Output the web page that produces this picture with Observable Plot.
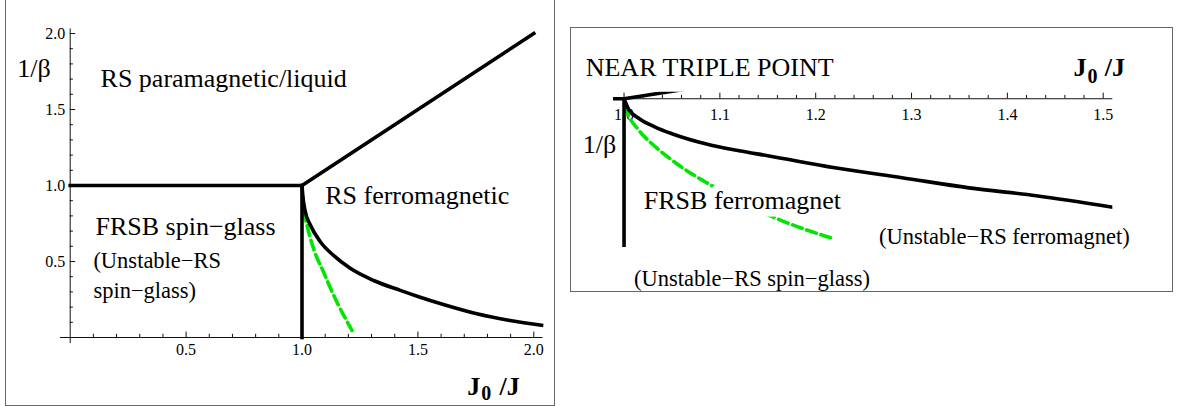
<!DOCTYPE html>
<html>
<head>
<meta charset="utf-8">
<script src="https://cdn.jsdelivr.net/npm/d3@7"></script>
<script src="https://cdn.jsdelivr.net/npm/@observablehq/plot@0.6"></script>
<style>
  html, body { margin: 0; padding: 0; background: #fff; width: 1181px; height: 406px; overflow: hidden; }
  #wrap { position: relative; width: 1181px; height: 406px; }
  .box { position: absolute; border: 1px solid #666; box-sizing: border-box; pointer-events: none; }
  #p1, #p2 { position: absolute; }
</style>
</head>
<body>
<div id="wrap">
  <div id="p1" style="left:0px;top:0px"></div>
  <div id="p2" style="left:560px;top:0px"></div>
  <div class="box" style="left:5px;top:-2px;width:550px;height:408px"></div>
  <div class="box" style="left:570px;top:27px;width:603px;height:265px"></div>
</div>
<script>
// ---------- DATA: full phase diagram (left panel) ----------
const xMajor1 = [0.5, 1.0, 1.5, 2.0];
const xMinor1 = [0.1, 0.2, 0.3, 0.4, 0.6, 0.7, 0.8, 0.9, 1.1, 1.2, 1.3, 1.4, 1.6, 1.7, 1.8, 1.9];
const yMajor1 = [0.5, 1.0, 1.5, 2.0];
const yMinor1 = [0.1, 0.2, 0.3, 0.4, 0.6, 0.7, 0.8, 0.9, 1.1, 1.2, 1.3, 1.4, 1.6, 1.7, 1.8, 1.9];
const xAxis1 = [-0.042, 2.04];
const yAxis1 = [-0.04, 2.03];

// spin-glass / paramagnet boundary
const sgParaX = [0, 1];
const sgParaY = [1, 1];
// paramagnet / ferromagnet boundary
const paraFerroX = [1, 2];
const paraFerroY = [1, 2];
// spin-glass / ferromagnet boundary (vertical)
const sgFerroX = [1, 1];
const sgFerroY = [0, 1];
// FRSB ferromagnet / RS ferromagnet boundary
const frsbX = [1.000, 1.003, 1.014, 1.036, 1.079, 1.136, 1.208, 1.309, 1.424, 1.500, 1.610, 1.754, 1.897, 2.041];
const frsbY = [1.000, 0.940, 0.830, 0.740, 0.630, 0.540, 0.455, 0.375, 0.310, 0.270, 0.217, 0.156, 0.112, 0.079];
// green dashed line
const greenX = [1.003, 1.007, 1.022, 1.050, 1.093, 1.151, 1.216];
const greenY = [0.930, 0.857, 0.737, 0.584, 0.430, 0.232, 0.046];

// ---------- DATA: near triple point (right panel) ----------
const xMajor2 = [1.0, 1.1, 1.2, 1.3, 1.4, 1.5];
const xMinor2 = [1.02, 1.04, 1.06, 1.08, 1.12, 1.14, 1.16, 1.18, 1.22, 1.24, 1.26, 1.28,
                 1.32, 1.34, 1.36, 1.38, 1.42, 1.44, 1.46, 1.48];
const xAxis2 = [0.9913, 1.51];
const nearFrsbX = [1.000, 1.005, 1.016, 1.033, 1.050, 1.085, 1.120, 1.150, 1.220, 1.290, 1.360, 1.430, 1.510];
const nearFrsbY = [1.000, 0.926, 0.866, 0.808, 0.765, 0.697, 0.650, 0.617, 0.536, 0.469, 0.401, 0.348, 0.271];
const nearGreenX = [1.001, 1.0025, 1.0157, 1.0331, 1.0505, 1.0679, 1.0853, 1.160, 1.219];
const nearGreenY = [0.950, 0.921, 0.787, 0.675, 0.585, 0.506, 0.439, 0.193, 0.058];

// ---------- labels ----------
const labels1 = [
  {text: "RS paramagnetic/liquid", x: 0.131, y: 1.651, size: 26},
  {text: "RS ferromagnetic", x: 1.10, y: 0.878, size: 26},
  {text: "FRSB spin\u2212glass", x: 0.109, y: 0.676, size: 26},
  {text: "(Unstable\u2212RS", x: 0.100, y: 0.456, size: 22.5},
  {text: "spin\u2212glass)", x: 0.100, y: 0.262, size: 22.5},
  {text: "1/\u03b2", x: -0.228, y: 1.717, size: 26}
];
const labels2 = [
  {text: "NEAR TRIPLE POINT", x: 0.960, y: 1.150, size: 26},
  {text: "1/\u03b2", x: 0.957, y: 0.632, size: 26},
  {text: "FRSB ferromagnet", x: 1.0206, y: 0.256, size: 26, halo: true},
  {text: "(Unstable\u2212RS spin\u2212glass)", x: 1.0104, y: -0.262, size: 22.5},
  {text: "(Unstable\u2212RS ferromagnet)", x: 1.266, y: 0.026, size: 22.5}
];

const FONT = "'Liberation Serif', 'Times New Roman', Times, serif";
const GREEN = "#00e600";
const pts = (xs, ys) => xs.map((x, i) => ({x, y: ys[i]}));
const style = {fontFamily: FONT, background: "none", overflow: "visible", color: "black"};

function axisLabel(x, y, ySub, xSub, xRest) {
  return [
    Plot.text(["J"], {x: () => x, y: () => y, text: d => d, fontSize: 26, fontWeight: "bold", textAnchor: "start", lineAnchor: "bottom"}),
    Plot.text(["0"], {x: () => xSub, y: () => ySub, text: d => d, fontSize: 20, fontWeight: "bold", textAnchor: "start", lineAnchor: "bottom"}),
    Plot.text(["/J"], {x: () => xRest, y: () => y, text: d => d, fontSize: 26, fontWeight: "bold", textAnchor: "start", lineAnchor: "bottom"})
  ];
}

// ---------- left panel ----------
{
  const W = 560, H = 406, ML = 69.7, MR = 26.7, MT = 33, MB = 69;
  const fw = W - ML - MR, fh = H - MT - MB;
  const thick = {x: "x", y: "y", stroke: "black", strokeWidth: 3.6, strokeLinecap: "square"};
  const chart = Plot.plot({
    width: W, height: H, marginLeft: ML, marginRight: MR, marginTop: MT, marginBottom: MB,
    x: {domain: [0, 2], axis: null},
    y: {domain: [0, 2], axis: null},
    style,
    marks: [
      Plot.ruleY([0], {x1: () => xAxis1[0], x2: () => xAxis1[1], stroke: "#111", strokeWidth: 1}),
      Plot.ruleX([0], {y1: () => yAxis1[0], y2: () => yAxis1[1], stroke: "#111", strokeWidth: 1}),
      Plot.tickX(xMinor1, {x: d => d, insetTop: fh - 3.2, stroke: "#111"}),
      Plot.tickX(xMajor1, {x: d => d, insetTop: fh - 5.5, stroke: "#111"}),
      Plot.tickY(yMinor1, {y: d => d, insetRight: fw - 3.2, stroke: "#111"}),
      Plot.tickY(yMajor1, {y: d => d, insetRight: fw - 5.5, stroke: "#111"}),
      Plot.text(xMajor1, {x: d => d, text: d => d.toFixed(1), frameAnchor: "bottom", dy: 17, fontSize: 16}),
      Plot.text(yMajor1, {y: d => d, text: d => d.toFixed(1), frameAnchor: "left", dx: -5, textAnchor: "end", fontSize: 16}),
      Plot.line(pts(greenX, greenY), {x: "x", y: "y", stroke: GREEN, strokeWidth: 3.6, strokeDasharray: "10,5", curve: "monotone-x"}),
      Plot.line(pts(sgParaX, sgParaY), thick),
      Plot.line(pts(paraFerroX, paraFerroY), thick),
      Plot.line(pts(sgFerroX, sgFerroY), thick),
      Plot.line(pts(frsbX, frsbY), {...thick, strokeLinecap: "butt", curve: "monotone-x"}),
      Plot.text(labels1, {x: "x", y: "y", text: "text", fontSize: d => d.size, textAnchor: "start", lineAnchor: "bottom"}),
      ...axisLabel(1.713, -0.378, -0.414, 1.773, 1.852)
    ]
  });
  document.getElementById("p1").appendChild(chart);
}

// ---------- right panel ----------
{
  const W = 621, H = 300, ML = 53, MR = 68.7, MT = 91.7, MB = 53;
  const YTOP = 1.044;
  const fh = H - MT - MB;
  const axisOff = (YTOP - 1) / YTOP * fh;
  const thick = {x: "x", y: "y", stroke: "black", strokeWidth: 3.6, clip: true};
  const chart = Plot.plot({
    width: W, height: H, marginLeft: ML, marginRight: MR, marginTop: MT, marginBottom: MB,
    x: {domain: [0.989, 1.51], axis: null},
    y: {domain: [0, YTOP], axis: null},
    style,
    marks: [
      Plot.ruleY([1], {x1: () => xAxis2[0], x2: () => xAxis2[1], stroke: "#111", strokeWidth: 1}),
      Plot.tickX(xMinor2, {x: d => d, insetTop: axisOff - 3.3, insetBottom: fh - axisOff, stroke: "#111"}),
      Plot.tickX(xMajor2, {x: d => d, insetTop: axisOff - 5.6, insetBottom: fh - axisOff, stroke: "#111"}),
      Plot.text(xMajor2, {x: d => d, y: () => 1, text: d => d.toFixed(1), dy: 16.5, fontSize: 16}),
      Plot.line(pts(nearGreenX, nearGreenY), {x: "x", y: "y", stroke: GREEN, strokeWidth: 3.6, strokeDasharray: "10,5", curve: "monotone-x", clip: true}),
      Plot.line(pts(sgParaX, sgParaY), thick),
      Plot.line(pts(paraFerroX, paraFerroY), thick),
      Plot.line(pts(sgFerroX, sgFerroY), thick),
      Plot.line(pts(nearFrsbX, nearFrsbY), {...thick, curve: "monotone-x"}),
      Plot.text(labels2.filter(d => d.halo), {x: "x", y: "y", text: "text", fontSize: d => d.size, textAnchor: "start", lineAnchor: "bottom", fill: "black", stroke: "white", strokeWidth: 15}),
      Plot.text(labels2.filter(d => !d.halo), {x: "x", y: "y", text: "text", fontSize: d => d.size, textAnchor: "start", lineAnchor: "bottom"}),
      ...axisLabel(1.469, 1.150, 1.103, 1.4835, 1.5015)
    ]
  });
  document.getElementById("p2").appendChild(chart);
}
</script>
</body>
</html>
